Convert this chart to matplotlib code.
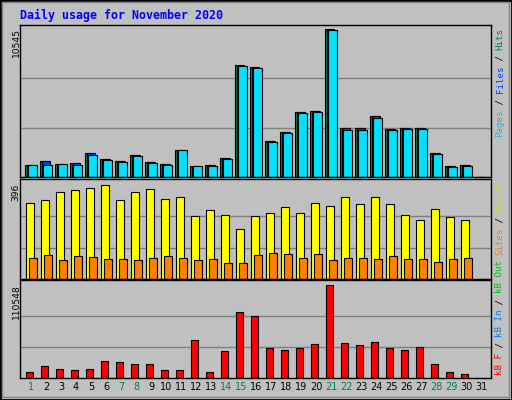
import matplotlib
matplotlib.use("Agg")
import matplotlib.pyplot as plt
import numpy as np
from matplotlib.patches import Rectangle

days = list(range(1, 32))
hits  = [860,1150,930,1000,1720,1290,1150,1580,1080,930,1940,790,860,1360,7960,7820,2580,3230,4660,4730,10545,3510,3510,4380,3440,3510,3510,1720,790,860,0]
files = [860,1150,930,980,1700,1270,1130,1560,1060,910,1940,780,840,1340,7930,7790,2560,3200,4630,4700,10500,3510,3490,4340,3430,3500,3500,1700,780,850,0]
pages = [860,860,930,860,1580,1220,1080,1510,1000,860,1940,790,790,1290,7890,7750,2510,3160,4590,4660,10470,3370,3370,4230,3370,3440,3440,1650,720,790,0]
visits = [320,329,363,372,381,396,329,363,376,336,344,263,289,267,211,263,276,302,276,320,307,344,313,344,313,270,248,292,258,246,0]
sites = [89,102,78,96,91,82,82,78,86,96,86,78,82,69,65,102,110,106,86,106,78,86,86,82,96,82,82,73,82,86,0]
kbf = [7660,13710,10080,8870,10080,19760,18550,16130,16130,8870,8870,45160,7660,31450,78610,73770,35890,33470,35890,40730,110548,41940,39520,43150,35890,33470,37100,16130,7660,5240,0]
day_colors = ['#00805c' if d in (1,7,8,14,15,21,22,28,29) else 'black' for d in days]

W, H = 512, 400
fig = plt.figure(figsize=(W/100, H/100), dpi=100, facecolor='#c0c0c0')
def fx(px): return px / W
def fy(py): return 1 - py / H

L, R = 20, 491
xl = (1 - 5/15, 1 - 5/15 + (R - L)/15)

def make_ax(top, bot, vmax, maxpix):
    ax = fig.add_axes([fx(L), fy(bot), fx(R - L), (bot - top)/H])
    ax.set_facecolor('#c0c0c0')
    ax.set_xlim(*xl)
    ax.set_ylim(0, vmax * (bot - top) / (bot - maxpix))
    ax.set_xticks([]); ax.set_yticks([])
    for v in (vmax/3, 2*vmax/3):
        ax.axhline(v, color='#808080', lw=1, zorder=0)
    for s in ax.spines.values():
        s.set_color('black'); s.set_linewidth(1)
    return ax

x = np.array(days, dtype=float)
ek = dict(edgecolor='black', linewidth=0.8, align='edge')

ax1 = make_ax(24.7, 177, 10545, 29)
ax1.bar(x, hits, 0.58, color='#00805c', **ek)
ax1.bar(x + 0.11, files, 0.58, color='#0040ff', **ek)
ax1.bar(x + 0.2, pages, 0.58, color='#00e0ff', **ek)

ax2 = make_ax(179, 279, 396, 184.5)
ax2.bar(x + 0.05, visits, 0.53, color='#ffff00', **ek)
ax2.bar(x + 0.29, sites, 0.49, color='#ff8000', **ek)

ax3 = make_ax(280, 378, 110548, 284.5)
ax3.bar(x + 0.05, kbf, 0.47, color='#ff0000', **ek)

for d, c in zip(days, day_colors):
    ax3.text(d + 0.4, -0.04, str(d), transform=ax3.get_xaxis_transform(),
             ha='center', va='top', fontsize=7, color=c, family='DejaVu Sans')

for ax, lab in ((ax1, '10545'), (ax2, '396'), (ax3, '110548')):
    pass
fig.text(fx(16), fy(28), '10545', rotation=90, ha='center', va='top', fontsize=6.6)
fig.text(fx(16), fy(184), '396', rotation=90, ha='center', va='top', fontsize=6.6)
fig.text(fx(16), fy(284), '110548', rotation=90, ha='center', va='top', fontsize=6.6)

fig.text(fx(20), fy(15), 'Daily usage for November 2020', fontsize=8.4, weight='bold',
         family='DejaVu Sans Mono', color='#0000ff', va='center', ha='left')

def side(pieces, ybot, xpix=500):
    y = ybot
    for txt, col in pieces:
        fig.text(fx(xpix), fy(y), txt, rotation=90, ha='center', va='bottom',
                 fontsize=6.6, family='DejaVu Sans Mono', color=col)
        y -= len(txt) * 5.45

side([('Pages', '#00c0ff'), (' / ', 'black'), ('Files', '#0040ff'), (' / ', 'black'), ('Hits', '#00805c')], 137)
side([('Sites', '#ff8000'), (' / ', 'black'), ('Visits', '#e0e000')], 255)
side([('kB F', '#ff0000'), (' / ', 'black'), ('kB In', '#0080ff'), (' / ', 'black'), ('kB Out', '#00c000')], 375)

fig.patches.append(Rectangle((0, 0), 1, 1, transform=fig.transFigure, fill=False,
                             edgecolor='black', linewidth=2))
fig.patches.append(Rectangle((fx(2), fy(397)), fx(507), 395/H, transform=fig.transFigure, fill=False,
                             edgecolor='#808080', linewidth=1))
fig.savefig('out.png', dpi=100, facecolor='#c0c0c0')
